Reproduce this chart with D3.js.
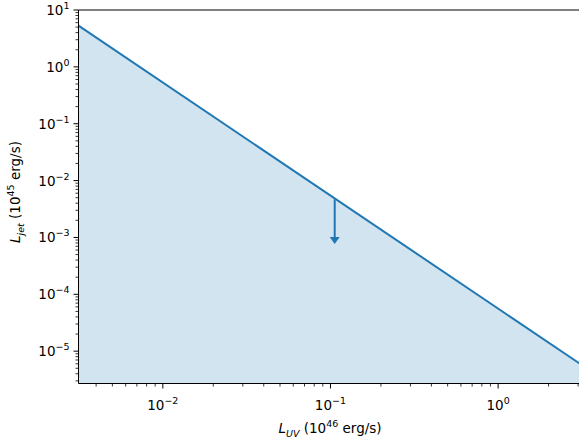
<!DOCTYPE html>
<html><head><meta charset="utf-8">
<script src="https://cdn.jsdelivr.net/npm/d3@7"></script>
<style>body{margin:0;background:#fff}svg{display:block}text{font-family:"DejaVu Sans",sans-serif;fill:#000}</style>
</head><body>
<svg id="c" width="579" height="440"></svg>
<script>
// Data
const limitX = [0.00314, 3.08];        // L_UV endpoints of the limit line
const limitY = [5.3, 6.0e-6];          // L_jet at those endpoints
const pointX = [0.106];                // upper-limit point
const pointY = [0.0047];
const pointArrowTo = [0.00077];
const xTickExps = [-2, -1, 0];
const yTickExps = [-5, -4, -3, -2, -1, 0, 1];
const xDomain = [0.00314, 3.08];
const yDomain = [2.7e-6, 10];

const m = {left: 78.5, right: 580, top: 10, bottom: 383.5};
const svg = d3.select("#c");
const x = d3.scaleLog().domain(xDomain).range([m.left, m.right]);
const y = d3.scaleLog().domain(yDomain).range([m.bottom, m.top]);
const blue = "#1f77b4";

const pts = limitX.map((v,i)=>[v, limitY[i]]);
// fill under the line
const area = d3.area().x(d=>x(d[0])).y0(m.bottom).y1(d=>y(d[1]));
svg.append("path").attr("d", area(pts)).attr("fill", blue).attr("fill-opacity", 0.2);
svg.append("path").attr("d", d3.line().x(d=>x(d[0])).y(d=>y(d[1]))(pts))
  .attr("fill","none").attr("stroke", blue).attr("stroke-width", 2);

// upper limit arrow
pointX.forEach((px,i)=>{
  const X = x(px), Y0 = y(pointY[i]), Y1 = y(pointArrowTo[i]);
  svg.append("line").attr("x1",X).attr("x2",X).attr("y1",Y0).attr("y2",Y1-4)
    .attr("stroke",blue).attr("stroke-width",2);
  svg.append("path").attr("d",`M${X-5},${Y1-7} L${X+5},${Y1-7} L${X},${Y1} Z`).attr("fill",blue);
});

// axes frame
const g = svg.append("g");
g.append("line").attr("x1",m.left).attr("x2",m.right).attr("y1",m.top).attr("y2",m.top).attr("stroke","#000").attr("stroke-width",1);
g.append("line").attr("x1",m.left).attr("x2",m.right).attr("y1",m.bottom).attr("y2",m.bottom).attr("stroke","#000").attr("stroke-width",1);
g.append("line").attr("x1",m.left).attr("x2",m.left).attr("y1",m.top).attr("y2",m.bottom).attr("stroke","#000").attr("stroke-width",1);

function minorTicks(dom){
  const out=[];
  const a=Math.floor(Math.log10(dom[0])), b=Math.ceil(Math.log10(dom[1]));
  for(let e=a;e<=b;e++) for(let k=2;k<=9;k++){const v=k*Math.pow(10,e); if(v>=dom[0]&&v<=dom[1]) out.push(v);}
  return out;
}
function label(sel, e){
  sel.append("tspan").text("10");
  sel.append("tspan").attr("dy",-6).attr("font-size",9.5).text(e<0 ? "\u2212"+(-e) : String(e));
}
// x ticks
xTickExps.forEach(e=>{
  const X=x(Math.pow(10,e));
  g.append("line").attr("x1",X).attr("x2",X).attr("y1",m.bottom).attr("y2",m.bottom+5).attr("stroke","#000").attr("stroke-width",1);
  const t=g.append("text").attr("x",X).attr("y",m.bottom+26).attr("text-anchor","middle").attr("font-size",13.5);
  label(t,e);
});
minorTicks(xDomain).forEach(v=>{
  const X=x(v);
  g.append("line").attr("x1",X).attr("x2",X).attr("y1",m.bottom).attr("y2",m.bottom+3).attr("stroke","#000").attr("stroke-width",0.8);
});
// y ticks
yTickExps.forEach(e=>{
  const Y=y(Math.pow(10,e));
  g.append("line").attr("x1",m.left-5).attr("x2",m.left).attr("y1",Y).attr("y2",Y).attr("stroke","#000").attr("stroke-width",1);
  const t=g.append("text").attr("x",m.left-9).attr("y",Y+5).attr("text-anchor","end").attr("font-size",13.5);
  label(t,e);
});
minorTicks(yDomain).forEach(v=>{
  const Y=y(v);
  g.append("line").attr("x1",m.left-3).attr("x2",m.left).attr("y1",Y).attr("y2",Y).attr("stroke","#000").attr("stroke-width",0.8);
});

// axis labels
const xl = svg.append("text").attr("x",330).attr("y",433).attr("text-anchor","middle").attr("font-size",13.5);
xl.append("tspan").attr("font-style","italic").text("L");
xl.append("tspan").attr("font-style","italic").attr("dy",4).attr("font-size",9.5).text("UV");
xl.append("tspan").attr("dy",-4).text(" (10");
xl.append("tspan").attr("dy",-6).attr("font-size",9.5).text("46");
xl.append("tspan").attr("dy",6).text(" erg/s)");

const yl = svg.append("text").attr("transform",`translate(20,192) rotate(-90)`).attr("text-anchor","middle").attr("font-size",13.5);
yl.append("tspan").attr("font-style","italic").text("L");
yl.append("tspan").attr("font-style","italic").attr("dy",4).attr("font-size",9.5).text("jet");
yl.append("tspan").attr("dy",-4).text(" (10");
yl.append("tspan").attr("dy",-6).attr("font-size",9.5).text("45");
yl.append("tspan").attr("dy",6).text(" erg/s)");
</script>
</body></html>
